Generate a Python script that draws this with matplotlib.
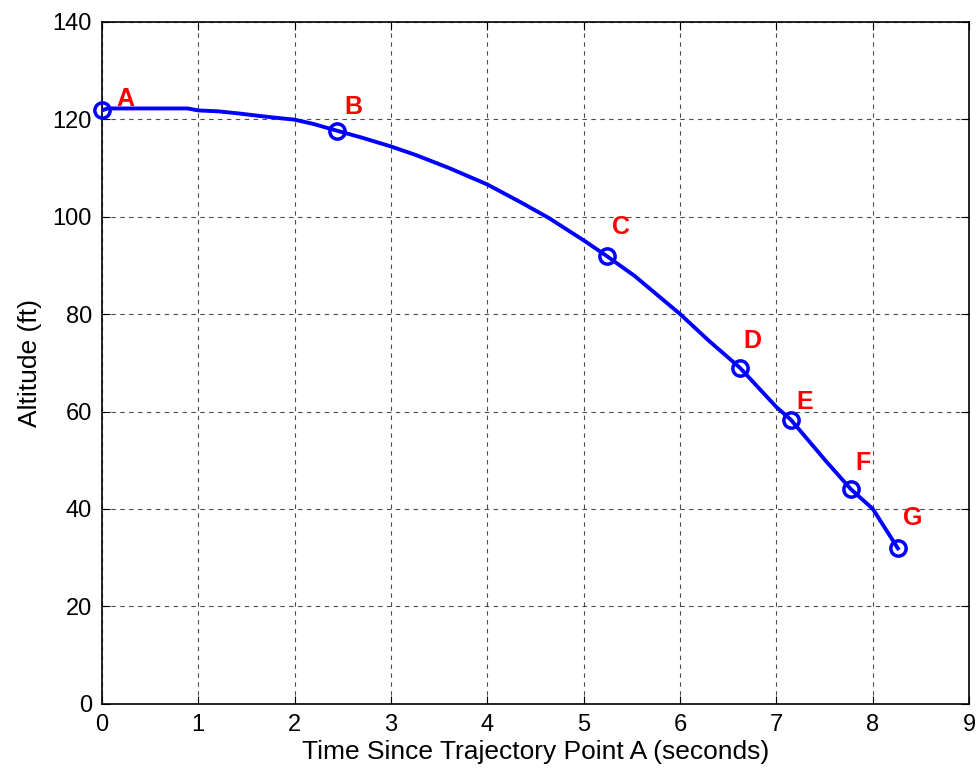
import numpy as np
import matplotlib.pyplot as plt

# trajectory
tiempo = [0.0, 0.06, 0.5, 0.89, 1.0, 1.21, 1.41, 1.62, 1.8, 2.0, 2.2, 2.41,
          2.7, 3.0, 3.25, 3.6, 4.0, 4.36, 4.64, 5.01, 5.24, 5.53, 6.0,
          6.3, 6.62, 7.0, 7.15, 7.51, 7.77, 8.0, 8.26]
altitud = [121.8, 122.2, 122.2, 122.2, 121.8, 121.6, 121.2, 120.7, 120.3,
           119.9, 119.0, 117.8, 116.2, 114.4, 112.7, 110.0, 106.6, 102.8,
           99.7, 95.0, 91.9, 87.8, 80.0, 74.5, 69.0, 60.9, 58.3, 49.9,
           44.1, 40.0, 31.9]

# trajectory points A..G
etiquetas = ['A', 'B', 'C', 'D', 'E', 'F', 'G']
t_puntos = [0.0, 2.44, 5.24, 6.62, 7.15, 7.77, 8.26]
alt_puntos = [121.8, 117.6, 91.9, 69.0, 58.3, 44.1, 31.9]
desplaz = [(17, 8), (12, 17), (10, 21), (9, 19), (10, 13), (9, 19), (11, 22)]

plt.rcParams['font.family'] = ['Liberation Sans', 'DejaVu Sans']

fig = plt.figure(figsize=(9.79, 7.76), dpi=100)
ax = fig.add_axes([0.104, 0.093, 0.886, 0.879])

ax.plot(tiempo, altitud, color='#0000ff', linewidth=2.8, zorder=3)
ax.plot(t_puntos, alt_puntos, 'o', color='#0000ff', markersize=11,
        markerfacecolor='none', markeredgewidth=2.5, zorder=4, clip_on=False)

for lab, t, a, off in zip(etiquetas, t_puntos, alt_puntos, desplaz):
    ax.annotate(lab, (t, a), xytext=off, textcoords='offset points',
                ha='center', va='center', color='#ff0000',
                fontsize=18, fontweight='bold', zorder=5)

ax.set_xlim(0, 9)
ax.set_ylim(0, 140)
ax.set_xticks(np.arange(0, 10, 1))
ax.set_yticks(np.arange(0, 141, 20))
ax.grid(True, color='k', linestyle=(0, (4, 4)), linewidth=0.8, alpha=0.7)
ax.tick_params(direction='in', top=True, right=True, labelsize=17, length=6,
               pad=7)
for s in ax.spines.values():
    s.set_linewidth(1.2)

ax.set_xlabel('Time Since Trajectory Point A (seconds)', fontsize=19,
              labelpad=3)
ax.set_ylabel('Altitude (ft)', fontsize=19, labelpad=8)

fig.savefig('out.png', dpi=100)
